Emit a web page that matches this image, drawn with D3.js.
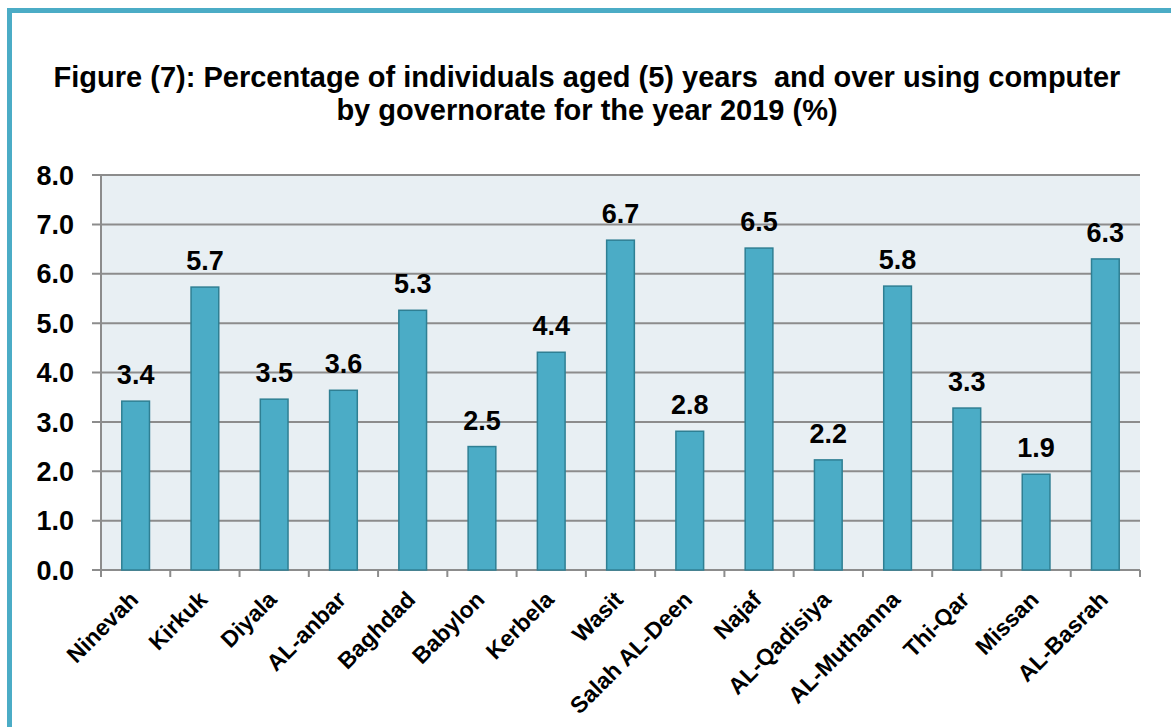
<!DOCTYPE html>
<html><head><meta charset="utf-8">
<script src="https://cdn.jsdelivr.net/npm/d3@7/dist/d3.min.js"></script>
<style>body{margin:0;background:#fff;}svg{display:block;font-family:"Liberation Sans",Arial,sans-serif;}</style>
</head><body><svg id="c" width="1171" height="727"></svg>
<script>
const categories = ["Ninevah","Kirkuk","Diyala","AL-anbar","Baghdad","Babylon","Kerbela","Wasit","Salah AL-Deen","Najaf","AL-Qadisiya","AL-Muthanna","Thi-Qar","Missan","AL-Basrah"];
const values = [3.42,5.73,3.46,3.64,5.26,2.50,4.41,6.68,2.81,6.52,2.23,5.75,3.28,1.94,6.30];
const yTicks = [0,1,2,3,4,5,6,7,8];
const titleLines = ["Figure (7): Percentage of individuals aged (5) years  and over using computer","by governorate for the year 2019 (%)"];

const svg = d3.select("#c");
// frame
svg.append("rect").attr("x",9.5).attr("y",10.5).attr("width",1300).attr("height",900)
  .attr("fill","none").attr("stroke","#4bacc6").attr("stroke-width",5);

svg.selectAll("text.title").data(titleLines).join("text").attr("class","title")
  .attr("x",587).attr("y",(d,i)=>87+i*33).attr("text-anchor","middle")
  .attr("font-size",29).attr("font-weight","bold").attr("fill","#000")
  .style("white-space","pre").text(d=>d);

const L=101,R=1140,T=175,B=570;
const x = d3.scaleBand().domain(categories).range([L,R]).paddingInner(0.6).paddingOuter(0.3);
const y = d3.scaleLinear().domain([0,8]).range([B,T]);

svg.append("rect").attr("x",L).attr("y",T).attr("width",R-L).attr("height",B-T).attr("fill","#e8eff3");

// gridlines
svg.append("g").selectAll("line").data(yTicks).join("line")
  .attr("x1",92).attr("x2",R).attr("y1",d=>y(d)).attr("y2",d=>y(d))
  .attr("stroke","#8c8c8c").attr("stroke-width",2);

// y axis line
svg.append("line").attr("x1",L).attr("x2",L).attr("y1",T).attr("y2",B+7).attr("stroke","#8c8c8c").attr("stroke-width",2);

// x ticks at band boundaries
const step = (R-L)/categories.length;
svg.append("g").selectAll("line").data(d3.range(categories.length+1)).join("line")
  .attr("x1",i=>L+i*step).attr("x2",i=>L+i*step).attr("y1",B).attr("y2",B+7)
  .attr("stroke","#8c8c8c").attr("stroke-width",2);

// y labels
svg.append("g").selectAll("text").data(yTicks).join("text")
  .attr("x",74).attr("y",d=>y(d)).attr("dy","0.36em").attr("text-anchor","end")
  .attr("font-size",27).attr("font-weight","bold").text(d=>d3.format(".1f")(d));

// bars
svg.append("g").selectAll("rect").data(values).join("rect")
  .attr("x",(d,i)=>x(categories[i])).attr("width",x.bandwidth())
  .attr("y",d=>y(d)).attr("height",d=>B-y(d))
  .attr("fill","#4bacc6").attr("stroke","#2f7f93").attr("stroke-width",1.5);

// value labels
svg.append("g").selectAll("text").data(values).join("text")
  .attr("x",(d,i)=>x(categories[i])+x.bandwidth()/2).attr("y",d=>y(d)-17)
  .attr("text-anchor","middle").attr("font-size",27).attr("font-weight","bold")
  .text(d=>d3.format(".1f")(d));

// x labels
svg.append("g").selectAll("text").data(categories).join("text")
  .attr("transform",d=>`translate(${x(d)+x.bandwidth()/2+4},${B+31}) rotate(-45)`)
  .attr("text-anchor","end").attr("font-size",23).attr("font-weight","bold").text(d=>d);
</script></body></html>
